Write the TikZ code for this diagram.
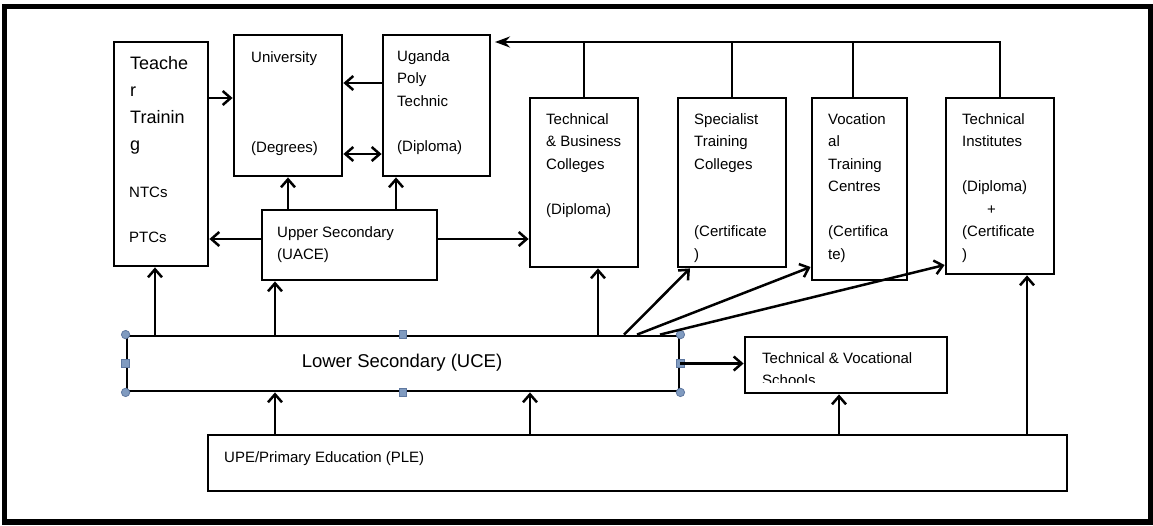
\documentclass[tikz,border=0pt]{standalone}
\usepackage{fontspec}
\setmainfont{Liberation Sans}
\usetikzlibrary{arrows.meta}
\definecolor{handlefill}{RGB}{128,155,192}
\definecolor{handledraw}{RGB}{95,120,160}
% left-aligned stack of lines whose baseline is the first line
\newcommand\rows[1]{\begin{tabular}[t]{@{}l@{}}#1\end{tabular}}

\begin{document}
\begin{tikzpicture}[x=1pt,y=-1pt,
  box/.style={draw, line width=2.8pt, rectangle, inner sep=0pt},
  txt/.style={inner sep=0pt, anchor=base west, font=\fontsize{15}{22.5}\selectfont},
  big/.style={inner sep=0pt, anchor=base west, font=\fontsize{18}{27.3}\selectfont},
  link/.style={line width=2.5pt},
  arr/.style={link, -{Straight Barb[length=8pt,width=14pt,line width=2.5pt]}},
  dbl/.style={link, {Straight Barb[length=8pt,width=14pt,line width=2.5pt]}-{Straight Barb[length=8pt,width=14pt,line width=2.5pt]}},
  toparr/.style={link, -{Stealth[length=15pt,width=11pt,inset=5pt]}},
  handle/.style={fill=handlefill, draw=handledraw, line width=0.8pt}]
\useasboundingbox (0,0) rectangle (1153,525);

% outer frame
\draw[line width=5.5pt] (4.5,6.5) rectangle (1150.5,522);

% boxes
\node[box, minimum width=94pt,  minimum height=224pt] (tt)  at (161,154)    {};
\node[box, minimum width=108pt, minimum height=141pt] (uni) at (288,105.5)  {};
\node[box, minimum width=107pt, minimum height=141pt] (upt) at (436.5,105.5){};
\node[box, minimum width=175pt, minimum height=70pt]  (us)  at (349.5,245)  {};
\node[box, minimum width=108pt, minimum height=169pt] (tbc) at (584,182.5)  {};
\node[box, minimum width=108pt, minimum height=169pt] (stc) at (732,182.5)  {};
\node[box, minimum width=95pt,  minimum height=182pt] (vtc) at (859.5,189)  {};
\node[box, minimum width=108pt, minimum height=176pt] (ti)  at (1000,186)   {};
\node[box, minimum width=552pt, minimum height=55pt]  (ls)  at (403,363.5)  {};
\node[box, minimum width=202pt, minimum height=56pt]  (tvs) at (846,365)    {};
\node[box, minimum width=859pt, minimum height=56pt]  (upe) at (637.5,463)  {};

% box texts
\node[big] (tt-title) at (130,69) {\rows{Teache\\r\\Trainin\\g}};
\node[txt] (tt-sub)   at (129,197) {\rows{NTCs\\ \\PTCs}};
\node[txt] (uni-text) at (251,62) {\rows{University\\ \\ \\ \\(Degrees)}};
\node[txt] (upt-text) at (397,61) {\rows{Uganda\\Poly\\Technic\\ \\(Diploma)}};
\node[txt] (us-text)  at (277,237) {\rows{Upper Secondary\\(UACE)}};
\node[txt] (tbc-text) at (546,124) {\rows{Technical\\\& Business\\Colleges\\ \\(Diploma)}};
\node[txt] (stc-text) at (694,124) {\rows{Specialist\\Training\\Colleges\\ \\ \\(Certificate\\)}};
\node[txt] (vtc-text) at (828,124) {\rows{Vocation\\al\\Training\\Centres\\ \\(Certifica\\te)}};
\node[txt] (ti-text)  at (962,124) {\rows{Technical\\Institutes\\ \\(Diploma)\\\hspace{25pt}+\\(Certificate\\)}};
\node[font=\fontsize{18.5}{22}\selectfont, inner sep=0pt] (ls-text) at ([xshift=-1pt,yshift=1pt]ls.center) {Lower Secondary (UCE)};
\begin{scope}
  \clip (745,337) rectangle (947,382.5);
  \node[txt] (tvs-text) at (762,363) {\rows{Technical \& Vocational\\Schools}};
\end{scope}
\node[txt] (upe-text) at (224,462) {UPE/Primary Education (PLE)};

% selection handles of the lower secondary box
\foreach \a in {north west, north east, south west, south east}
  \filldraw[handle] (ls.\a) circle (4.2pt);
\foreach \a in {north, south, west, east}
  \filldraw[handle] ([xshift=-3.8pt,yshift=-3.8pt]ls.\a) rectangle ([xshift=3.8pt,yshift=3.8pt]ls.\a);

% top collector line towards the polytechnic
\coordinate (topend) at (495,42);
\draw[toparr] (ti.north) |- (topend);
\draw[link] (tbc.north) -- (tbc.north |- topend);
\draw[link] (stc.north) -- (stc.north |- topend);
\draw[link] ([xshift=-6.5pt]vtc.north) -- ([xshift=-6.5pt]vtc.north |- topend);

% upper level links
\draw[arr] (tt.east |- 0,98) -- (uni.west |- 0,98);
\draw[arr] (upt.west |- 0,83) -- (uni.east |- 0,83);
\draw[dbl] (uni.east |- 0,154) -- (upt.west |- 0,154);
\draw[arr] (us.north -| uni.south) -- (uni.south);
\draw[arr] (us.north -| 396,0) -- (upt.south -| 396,0);
\draw[arr] (us.west |- 0,239) -- (tt.east |- 0,239);
\draw[arr] (us.east |- 0,239) -- (tbc.west |- 0,239);

% from lower secondary
\draw[arr] (ls.north -| 155,0) -- (tt.south -| 155,0);
\draw[arr] (ls.north -| 275,0) -- (us.south -| 275,0);
\draw[arr] (ls.north -| 598,0) -- (tbc.south -| 598,0);
\draw[arr] (ls.north -| 624,0) -- (stc.south -| 690,0);
\draw[arr] (ls.north -| 637,0) -- (vtc.west |- 0,267);
\draw[arr] (ls.north -| 660,0) -- (ti.west |- 0,265);
\draw[arr] (ls.east) -- (tvs.west |- ls.east);

% from primary education
\draw[arr] (upe.north -| 275,0) -- (ls.south -| 275,0);
\draw[arr] (upe.north -| 530,0) -- (ls.south -| 530,0);
\draw[arr] (upe.north -| 839,0) -- (tvs.south -| 839,0);
\draw[arr] (upe.north -| 1027,0) -- (ti.south -| 1027,0);
\end{tikzpicture}
\end{document}
